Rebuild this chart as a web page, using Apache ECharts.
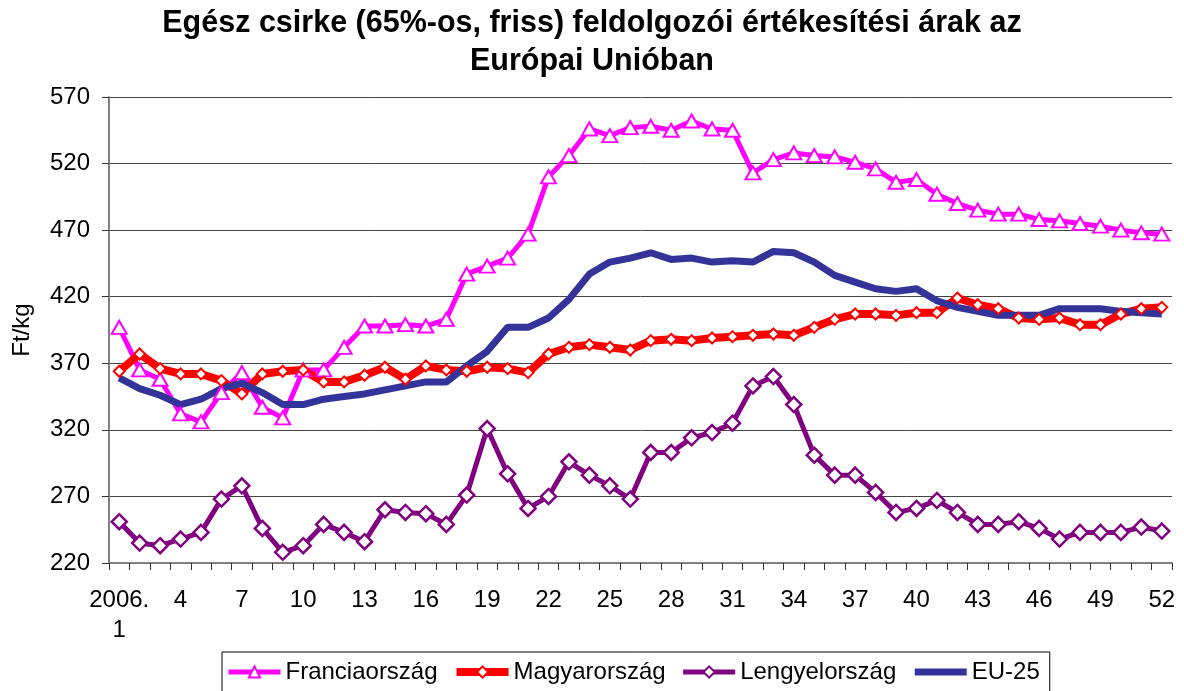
<!DOCTYPE html>
<html>
<head>
<meta charset="utf-8">
<script src="https://cdn.jsdelivr.net/npm/echarts@6/dist/echarts.min.js"></script>
<style>
  html, body { margin: 0; padding: 0; background: #fff; }
  #chart { width: 1184px; height: 691px; }
</style>
</head>
<body>
<div id="chart"></div>
<script>
// hetek (2006)
var weeks = ['2006.\n1', '2', '3', '4', '5', '6', '7', '8', '9', '10', '11', '12', '13',
  '14', '15', '16', '17', '18', '19', '20', '21', '22', '23', '24', '25', '26',
  '27', '28', '29', '30', '31', '32', '33', '34', '35', '36', '37', '38', '39',
  '40', '41', '42', '43', '44', '45', '46', '47', '48', '49', '50', '51', '52'];

// Ft/kg
var francia = [397, 365, 358, 332, 326, 348, 363, 337, 329, 365, 365, 382, 398,
  398, 399, 398, 403, 437, 443, 449, 467, 510, 526, 546, 541, 547,
  548, 545, 552, 546, 545, 513, 523, 528, 526, 525, 521, 516, 506,
  508, 497, 490, 485, 482, 482, 478, 477, 475, 473, 470, 468, 467];
var magyar = [364, 377, 366, 362, 362, 357, 347, 362, 364, 365, 356, 356, 361,
  367, 358, 368, 365, 364, 367, 366, 363, 377, 382, 384, 382, 380,
  387, 388, 387, 389, 390, 391, 392, 391, 397, 403, 407, 407, 406,
  408, 408, 419, 414, 411, 404, 403, 404, 399, 399, 407, 411, 412];
var lengyel = [251, 235, 233, 238, 243, 268, 278, 246, 228, 233, 249, 243, 236,
  260, 258, 257, 249, 271, 321, 287, 261, 270, 296, 286, 278, 268,
  303, 303, 314, 318, 325, 353, 360, 339, 301, 286, 286, 273, 258,
  261, 267, 258, 249, 249, 251, 246, 238, 243, 243, 243, 247, 244];
var eu25 = [359, 351, 346, 339, 343, 351, 355, 348, 339, 339, 343, 345, 347,
  350, 353, 356, 356, 368, 379, 397, 397, 404, 418, 437, 446, 449,
  453, 448, 449, 446, 447, 446, 454, 453, 446, 436, 431, 426, 424,
  426, 417, 412, 409, 406, 406, 406, 411, 411, 411, 409, 408, 407];

var font = "'Liberation Sans', Arial, sans-serif";
var myChart = echarts.init(document.getElementById('chart'));

var option = {
  animation: false,
  textStyle: { fontFamily: font },
  title: {
    text: 'Egész csirke (65%-os, friss) feldolgozói értékesítési árak az\nEurópai Unióban',
    left: 'center',
    top: 5,
    padding: [0, 0, 0, 16],
    textStyle: { fontFamily: font, fontSize: 30.5, fontWeight: 'bold', color: '#000', lineHeight: 38 }
  },
  legend: {
    left: 222,
    top: 652,
    padding: [8, 10, 8, 4],
    itemGap: 15,
    itemWidth: 52,
    itemHeight: 14,
    borderColor: '#000',
    borderWidth: 1,
    textStyle: { fontFamily: font, fontSize: 24, color: '#000' },
    data: [
      { name: 'Franciaország', lineStyle: { width: 5 } },
      { name: 'Magyarország', lineStyle: { width: 8 } },
      { name: 'Lengyelország', lineStyle: { width: 5 } },
      { name: 'EU-25', lineStyle: { width: 7 }, itemStyle: { opacity: 0 } }
    ]
  },
  grid: { left: 109, right: 12, top: 97, bottom: 128, containLabel: false, outerBoundsMode: 'none' },
  xAxis: {
    type: 'category',
    data: weeks,
    boundaryGap: true,
    axisLine: { lineStyle: { color: '#808080', width: 2 } },
    axisTick: { show: true, interval: 0, length: 7, lineStyle: { color: '#333' } },
    axisLabel: { interval: 2, margin: 22, fontSize: 24, lineHeight: 30, color: '#000', fontFamily: font }
  },
  yAxis: {
    type: 'value',
    min: 220,
    max: 570,
    interval: 50,
    name: 'Ft/kg',
    nameLocation: 'middle',
    nameGap: 75,
    nameTextStyle: { fontSize: 24, color: '#000', fontFamily: font },
    axisLine: { show: true, lineStyle: { color: '#808080', width: 2 } },
    axisTick: { show: true, length: 7, lineStyle: { color: '#333' } },
    axisLabel: { margin: 19, fontSize: 24, color: '#000', fontFamily: font },
    splitLine: { lineStyle: { color: '#444', width: 1 } }
  },
  series: [
    {
      name: 'Franciaország',
      type: 'line',
      data: francia,
      symbol: 'triangle',
      symbolSize: [15, 13],
      showAllSymbol: true,
      lineStyle: { color: '#FF00FF', width: 5 },
      itemStyle: { color: '#fff', borderColor: '#FF00FF', borderWidth: 2 }
    },
    {
      name: 'Magyarország',
      type: 'line',
      data: magyar,
      symbol: 'diamond',
      symbolSize: 11,
      showAllSymbol: true,
      lineStyle: { color: '#FF0000', width: 8 },
      itemStyle: { color: '#fff', borderColor: '#FF0000', borderWidth: 2 }
    },
    {
      name: 'Lengyelország',
      type: 'line',
      data: lengyel,
      symbol: 'diamond',
      symbolSize: 15,
      showAllSymbol: true,
      lineStyle: { color: '#800080', width: 5 },
      itemStyle: { color: '#fff', borderColor: '#800080', borderWidth: 2.5 }
    },
    {
      name: 'EU-25',
      type: 'line',
      data: eu25,
      symbol: 'circle',
      symbolSize: 0,
      showSymbol: false,
      lineStyle: { color: '#333399', width: 7 },
      itemStyle: { color: '#333399' }
    }
  ]
};
myChart.setOption(option);
</script>
</body>
</html>
